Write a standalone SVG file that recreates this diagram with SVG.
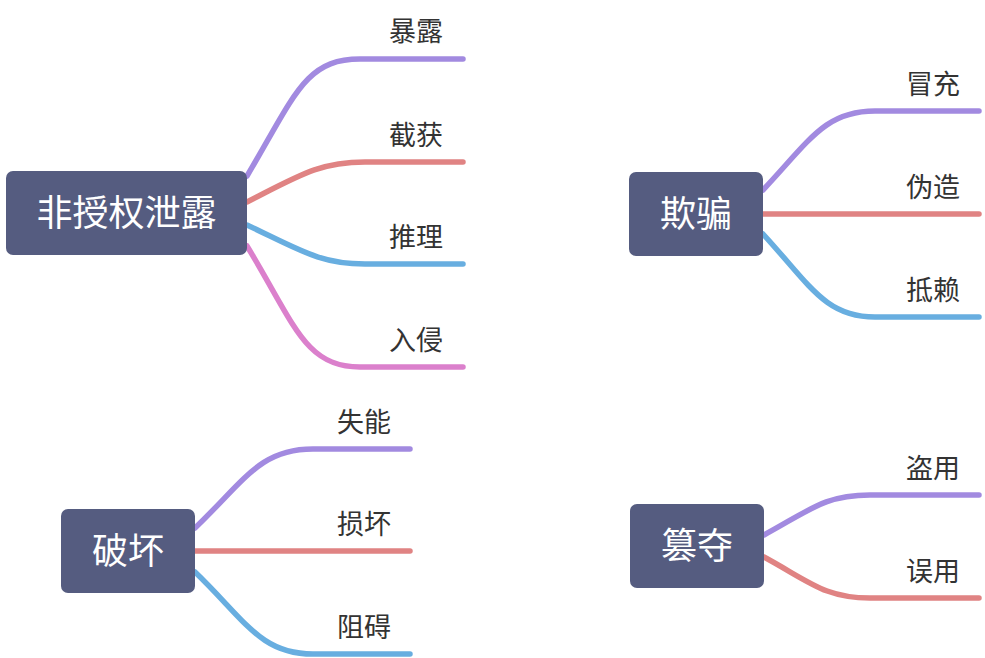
<svg xmlns="http://www.w3.org/2000/svg" width="985" height="658" viewBox="0 0 985 658">
<style>
.box{fill:#555C80}
.main{fill:#ffffff;font-family:"Noto Sans CJK SC","Noto Sans",sans-serif;font-size:36px;text-anchor:middle}
.lbl{fill:#333333;font-family:"Noto Sans CJK SC","Noto Sans",sans-serif;font-size:27px}
.c{fill:none;stroke-width:5.5;stroke-linecap:round}
.p{stroke:#A28AE0}
.r{stroke:#E08383}
.b{stroke:#68AEE0}
.m{stroke:#DB80CC}
</style>
<rect width="985" height="658" fill="#ffffff"/>
<g id="connectors">
<path class="c p" d="M247,176 C295,95 305,59 360,59 L463,59"/>
<path class="c r" d="M247,202 C300,175 320,162 365,162 L463,162"/>
<path class="c b" d="M247,225 C300,250 320,264 365,264 L463,264"/>
<path class="c m" d="M247,246 C295,325 305,367 360,367 L463,367"/>
<path class="c p" d="M763,190 C810,140 825,111 875,111 L979,111"/>
<path class="c r" d="M763,214 L979,214"/>
<path class="c b" d="M763,234 C810,285 825,317 875,317 L979,317"/>
<path class="c p" d="M195,528 C245,480 260,449 313,449 L410,449"/>
<path class="c r" d="M195,551 L410,551"/>
<path class="c b" d="M195,572 C245,620 260,654 313,654 L410,654"/>
<path class="c p" d="M764,535 C810,510 825,495 870,495 L979,495"/>
<path class="c r" d="M764,557 C810,582 825,598 870,598 L979,598"/>
</g>
<g id="node-feishouquan">
<rect class="box" x="6" y="171" width="241" height="84" rx="7"/>
<text class="main" x="126.5" y="226">非授权泄露</text>
</g>
<g id="leaf-baolu"><text class="lbl" x="389" y="41">暴露</text></g>
<g id="leaf-jiehuo"><text class="lbl" x="389" y="145">截获</text></g>
<g id="leaf-tuili"><text class="lbl" x="389" y="247">推理</text></g>
<g id="leaf-ruqin"><text class="lbl" x="389" y="350">入侵</text></g>
<g id="node-qipian">
<rect class="box" x="629" y="172" width="134" height="84" rx="7"/>
<text class="main" x="696" y="227">欺骗</text>
</g>
<g id="leaf-maochong"><text class="lbl" x="906" y="94">冒充</text></g>
<g id="leaf-weizao"><text class="lbl" x="906" y="197">伪造</text></g>
<g id="leaf-dilai"><text class="lbl" x="906" y="300">抵赖</text></g>
<g id="node-pohuai">
<rect class="box" x="61" y="509" width="134" height="84" rx="7"/>
<text class="main" x="128" y="564">破坏</text>
</g>
<g id="leaf-shineng"><text class="lbl" x="337" y="432">失能</text></g>
<g id="leaf-sunhuai"><text class="lbl" x="337" y="534">损坏</text></g>
<g id="leaf-zuai"><text class="lbl" x="337" y="637">阻碍</text></g>
<g id="node-cuanduo">
<rect class="box" x="630" y="504" width="134" height="84" rx="7"/>
<text class="main" x="697" y="559">篡夺</text>
</g>
<g id="leaf-daoyong"><text class="lbl" x="906" y="478">盗用</text></g>
<g id="leaf-wuyong"><text class="lbl" x="906" y="581">误用</text></g>
</svg>
